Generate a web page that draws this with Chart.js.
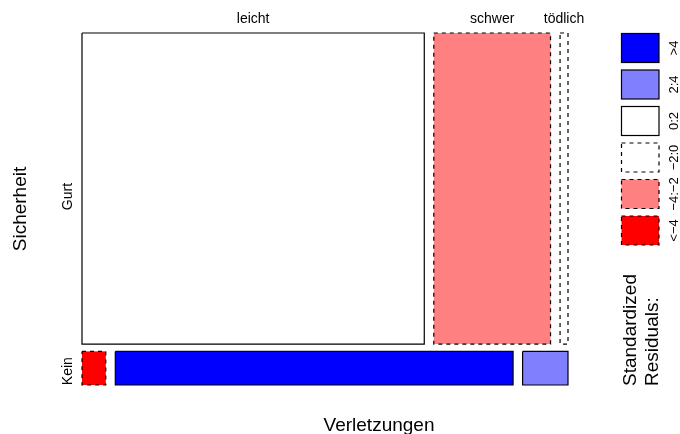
<!DOCTYPE html>
<html>
<head>
<meta charset="utf-8">
<script src="https://cdn.jsdelivr.net/npm/chart.js@4.4.1/dist/chart.umd.min.js"></script>
<style>
  html, body { margin: 0; padding: 0; background: #ffffff; }
  #wrap { position: relative; width: 680px; height: 434px; }
  canvas { display: block; }
</style>
</head>
<body>
<div id="wrap"><canvas id="c" width="680" height="434"></canvas></div>
<script>
// ---- data ----
const rowLevels = ["Gurt", "Kein"];                 // Sicherheit
const colLevels = ["leicht", "schwer", "tödlich"];  // Verletzungen
const countsGurt = [1466, 500, 34];
const countsKein = [11, 184, 21];
// standardized residual class of each cell (index into residualClasses)
const classGurt = [2, 4, 3];
const classKein = [5, 0, 1];
const residualClasses = [">4", "2:4", "0:2", "\u22122:0", "\u22124:\u22122", "<\u22124"];
const classFill = ["#0000FF", "#8080FF", "#FFFFFF", "#FFFFFF", "#FF8080", "#FF0000"];
const classDashed = [false, false, false, true, true, true];
const xTitle = "Verletzungen";
const yTitle = "Sicherheit";
const legendTitle = ["Standardized", "Residuals:"];

// ---- layout helpers ----
const gapX = 0.0204, gapY = 0.0212;
const FONT = "'Liberation Sans', Arial, Helvetica, sans-serif";

const rows = [countsGurt, countsKein];
const rowClasses = [classGurt, classKein];
const rowTotals = rows.map(r => r.reduce((a, b) => a + b, 0));
const grand = rowTotals.reduce((a, b) => a + b, 0);

const datasets = [];
const cells = [];
let yCursor = 0;
rows.forEach((r, ri) => {
  const h = rowTotals[ri] / grand;
  let xCursor = 0;
  r.forEach((v, ci) => {
    const w = v / rowTotals[ri];
    const x0 = xCursor, x1 = xCursor + w, y0 = yCursor, y1 = yCursor + h;
    const k = rowClasses[ri][ci];
    cells.push({ri, ci, x0, x1, y0, y1});
    datasets.push({
      label: rowLevels[ri] + " / " + colLevels[ci],
      data: [{x: x0, y: y0}, {x: x1, y: y0}, {x: x1, y: y1}, {x: x0, y: y1}, {x: x0, y: y0}],
      showLine: true,
      fill: 'shape',
      backgroundColor: classFill[k],
      borderColor: '#000000',
      borderWidth: 1.2,
      borderDash: classDashed[k] ? [4, 4] : [],
      pointRadius: 0,
      pointHoverRadius: 0,
      tension: 0,
      clip: false
    });
    xCursor = x1 + gapX;
  });
  yCursor += h + gapY;
});

const textPlugin = {
  id: 'mosaicText',
  afterDraw(chart) {
    const ctx = chart.ctx;
    const xs = chart.scales.x, ys = chart.scales.y;
    ctx.save();
    ctx.fillStyle = '#000000';
    // column labels (top)
    ctx.font = "14px " + FONT;
    ctx.textAlign = 'center';
    ctx.textBaseline = 'alphabetic';
    cells.filter(c => c.ri === 0).forEach(c => {
      const cx = (xs.getPixelForValue(c.x0) + xs.getPixelForValue(c.x1)) / 2;
      ctx.fillText(colLevels[c.ci], cx, 23);
    });
    // row labels (left, rotated)
    const rowShift = [8, 3];
    rowLevels.forEach((lab, ri) => {
      const c = cells.find(cc => cc.ri === ri);
      const cy = (ys.getPixelForValue(c.y0) + ys.getPixelForValue(c.y1)) / 2 + rowShift[ri];
      ctx.save();
      ctx.translate(72, cy);
      ctx.rotate(-Math.PI / 2);
      ctx.textAlign = 'center';
      ctx.fillText(lab, 0, 0);
      ctx.restore();
    });
    // axis titles
    ctx.font = "19px " + FONT;
    ctx.textAlign = 'center';
    ctx.fillText(xTitle, 379, 431);
    ctx.save();
    ctx.translate(26, (chart.chartArea.top + chart.chartArea.bottom) / 2);
    ctx.rotate(-Math.PI / 2);
    ctx.fillText(yTitle, 0, 0);
    ctx.restore();
    // legend
    const lx0 = 621.5, lx1 = 659, top0 = 33.5, step = 36.5, bh = 29;
    residualClasses.forEach((lab, k) => {
      const y0 = top0 + step * k;
      ctx.save();
      ctx.fillStyle = classFill[k];
      ctx.fillRect(lx0, y0, lx1 - lx0, bh);
      ctx.strokeStyle = '#000000';
      ctx.lineWidth = 1.2;
      ctx.setLineDash(classDashed[k] ? [4, 4] : []);
      ctx.strokeRect(lx0, y0, lx1 - lx0, bh);
      ctx.restore();
      ctx.save();
      ctx.font = "13px " + FONT;
      ctx.translate(678, y0 + bh / 2);
      ctx.rotate(-Math.PI / 2);
      ctx.textAlign = 'center';
      ctx.textBaseline = 'alphabetic';
      ctx.fillText(lab, 0, 0);
      ctx.restore();
    });
    ctx.font = "19px " + FONT;
    legendTitle.forEach((t, i) => {
      ctx.save();
      ctx.translate(636 + i * 22, 386);
      ctx.rotate(-Math.PI / 2);
      ctx.textAlign = 'left';
      ctx.fillText(t, 0, 0);
      ctx.restore();
    });
    ctx.restore();
  }
};

new Chart(document.getElementById('c'), {
  type: 'scatter',
  data: { datasets },
  options: {
    responsive: false,
    animation: false,
    devicePixelRatio: 1,
    layout: { padding: { left: 82, right: 112, top: 33, bottom: 49 } },
    plugins: { legend: { display: false }, tooltip: { enabled: false } },
    events: [],
    scales: {
      x: { type: 'linear', display: false, min: 0, max: 1 + 2 * gapX },
      y: { type: 'linear', display: false, min: 0, max: 1 + gapY, reverse: true }
    }
  },
  plugins: [textPlugin]
});
</script>
</body>
</html>
